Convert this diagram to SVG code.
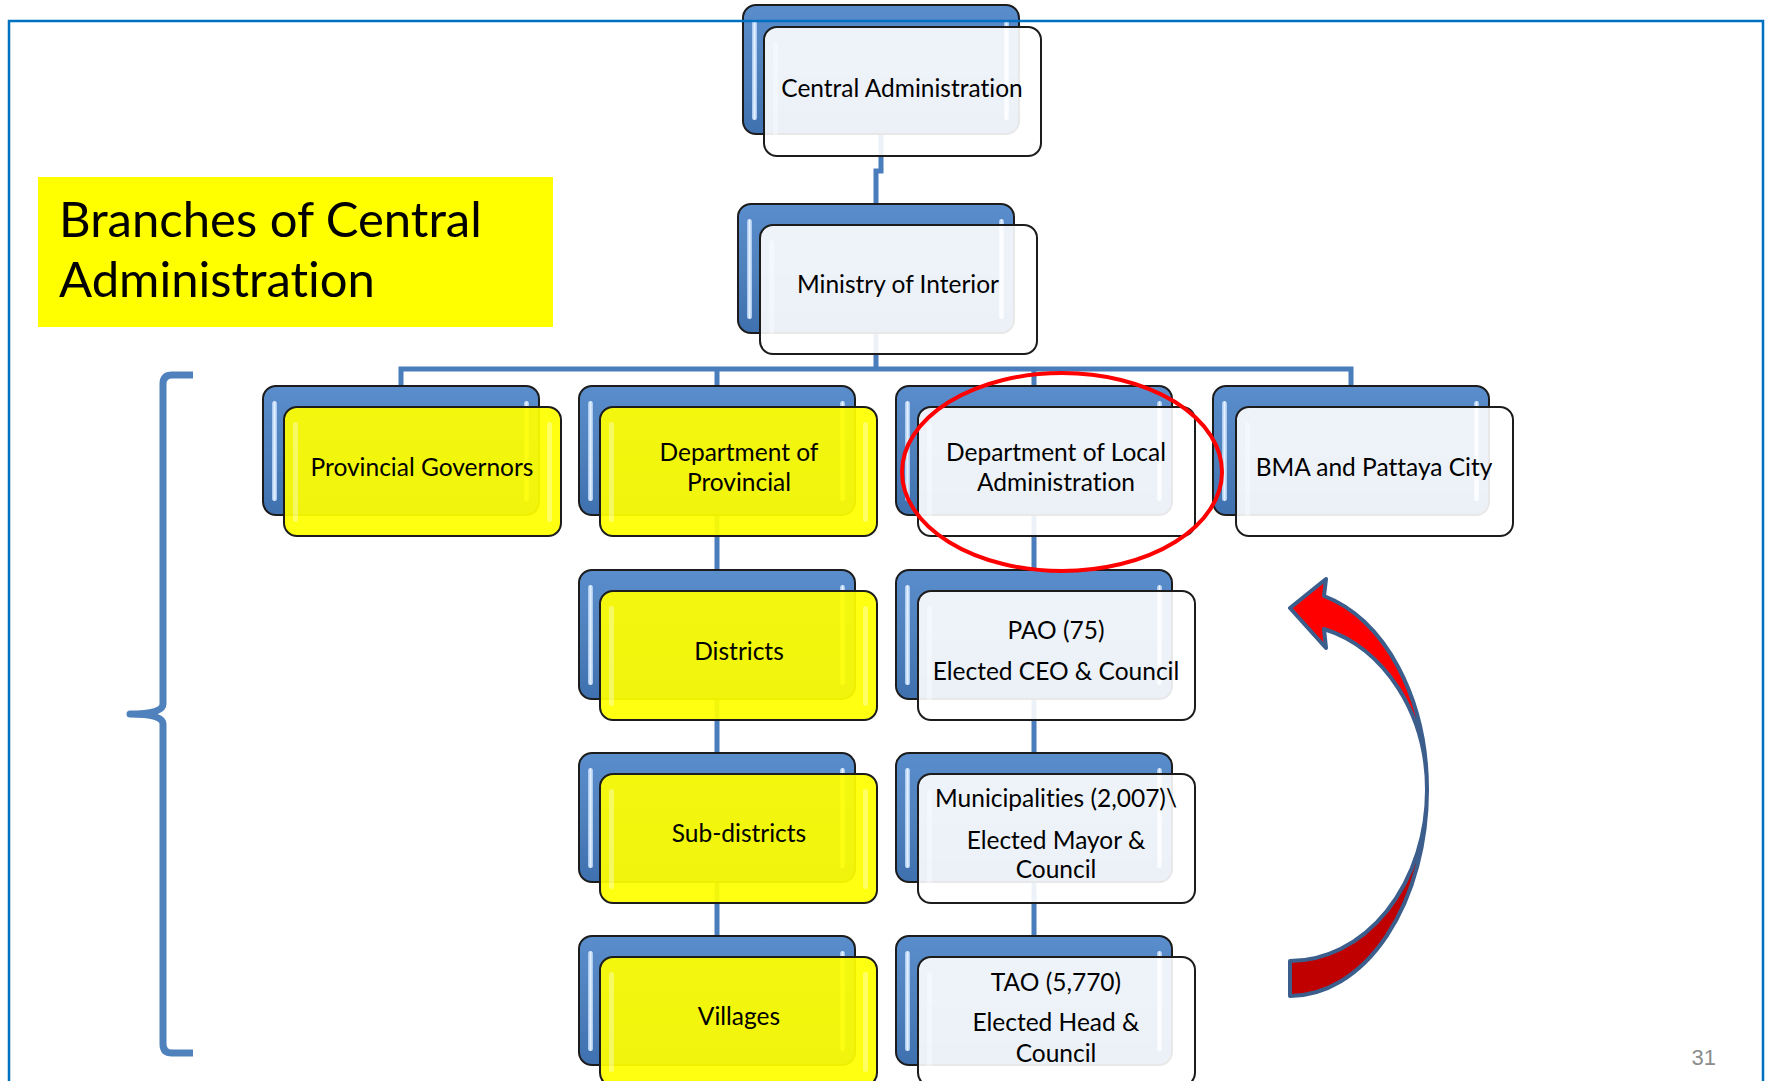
<svg xmlns="http://www.w3.org/2000/svg" width="1765" height="1081" viewBox="0 0 1765 1081">
<defs>
<linearGradient id="gBack" x1="0" y1="0" x2="0" y2="1">
<stop offset="0" stop-color="#5A8DCC"/>
<stop offset="0.5" stop-color="#4F81BD"/>
<stop offset="1" stop-color="#3F70AF"/>
</linearGradient>
<linearGradient id="gHl" x1="0" y1="0" x2="1" y2="0">
<stop offset="0" stop-color="#9FC3EE"/>
<stop offset="0.5" stop-color="#E4F0FD"/>
<stop offset="1" stop-color="#9FC3EE"/>
</linearGradient>
<style>
.back{fill:url(#gBack);stroke:#1C1C1C;stroke-width:2}
.hl{fill:url(#gHl)}
.fw{fill:#FFFFFF;fill-opacity:0.9;stroke:#1C1C1C;stroke-width:2}
.fy{fill:#FFFF00;fill-opacity:0.93;stroke:#1C1C1C;stroke-width:2}
.fhl{fill:#FFFFFF;fill-opacity:0.35}
text{font-variant-ligatures:none;font-feature-settings:"liga" 0}
.t{font-family:Lato,"Liberation Sans",sans-serif;font-size:24.5px;fill:#000;text-anchor:middle}
.conn{fill:none;stroke:#4A7DBB;stroke-width:5}
</style>
</defs>
<rect width="1765" height="1081" fill="#FFFFFF"/>

<g id="title">
<rect x="38" y="177" width="515" height="150" fill="#FFFF00"/>
<text x="59" y="237" style="font-family:Lato,'Liberation Sans',sans-serif;font-size:49px;fill:#000">Branches of Central</text>
<text x="59" y="297" style="font-family:Lato,'Liberation Sans',sans-serif;font-size:49px;fill:#000">Administration</text>
</g>

<g id="bracket">
<path d="M193,375 H172 Q163,375 163,384 V704 Q163,714 130,714 Q163,714 163,724 V1044 Q163,1053 172,1053 H193" fill="none" stroke="#4F81BD" stroke-width="7" stroke-linejoin="round"/>
</g>

<g id="connectors">
<path class="conn" d="M881,133 V171 H876 V204"/>
<path class="conn" d="M876,332 V369"/>
<path class="conn" d="M401,386 V369 H1351 V386 M717,369 V386 M1034,369 V386"/>
<path class="conn" d="M717,515 V570 M717,699 V753 M717,882 V936"/>
<path class="conn" d="M1034,515 V570 M1034,699 V753 M1034,882 V936"/>
</g>

<g id="n-central">
<rect class="back" x="743" y="5" width="276" height="129" rx="13"/>
<rect class="hl" x="752" y="20" width="5" height="100" rx="2.5"/>
<rect class="hl" x="1004" y="20" width="5" height="100" rx="2.5"/>
<rect class="fw" x="764" y="27" width="277" height="129" rx="13"/>
<rect class="fhl" x="773" y="42" width="5" height="100" rx="2.5"/>
<rect class="fhl" x="1027" y="42" width="5" height="100" rx="2.5"/>
<text class="t" x="902" y="97">Central Administration</text>
</g>

<g id="n-ministry">
<rect class="back" x="738" y="204" width="276" height="129" rx="13"/>
<rect class="hl" x="747" y="219" width="5" height="100" rx="2.5"/>
<rect class="hl" x="999" y="219" width="5" height="100" rx="2.5"/>
<rect class="fw" x="760" y="225" width="277" height="129" rx="13"/>
<rect class="fhl" x="769" y="240" width="5" height="100" rx="2.5"/>
<rect class="fhl" x="1023" y="240" width="5" height="100" rx="2.5"/>
<text class="t" x="898" y="293">Ministry of Interior</text>
</g>

<g id="n-provgov">
<rect class="back" x="263" y="386" width="276" height="129" rx="13"/>
<rect class="hl" x="272" y="401" width="5" height="100" rx="2.5"/>
<rect class="hl" x="524" y="401" width="5" height="100" rx="2.5"/>
<rect class="fy" x="284" y="407" width="277" height="129" rx="13"/>
<rect class="fhl" x="293" y="422" width="5" height="100" rx="2.5"/>
<rect class="fhl" x="547" y="422" width="5" height="100" rx="2.5"/>
<text class="t" x="422" y="476">Provincial Governors</text>
</g>

<g id="n-deptprov">
<rect class="back" x="579" y="386" width="276" height="129" rx="13"/>
<rect class="hl" x="588" y="401" width="5" height="100" rx="2.5"/>
<rect class="hl" x="840" y="401" width="5" height="100" rx="2.5"/>
<rect class="fy" x="600" y="407" width="277" height="129" rx="13"/>
<rect class="fhl" x="609" y="422" width="5" height="100" rx="2.5"/>
<rect class="fhl" x="863" y="422" width="5" height="100" rx="2.5"/>
<text class="t" x="739" y="461">Department of</text>
<text class="t" x="739" y="491">Provincial</text>
</g>

<g id="n-deptlocal">
<rect class="back" x="896" y="386" width="276" height="129" rx="13"/>
<rect class="hl" x="905" y="401" width="5" height="100" rx="2.5"/>
<rect class="hl" x="1157" y="401" width="5" height="100" rx="2.5"/>
<rect class="fw" x="918" y="407" width="277" height="129" rx="13"/>
<rect class="fhl" x="927" y="422" width="5" height="100" rx="2.5"/>
<rect class="fhl" x="1181" y="422" width="5" height="100" rx="2.5"/>
<text class="t" x="1056" y="461">Department of Local</text>
<text class="t" x="1056" y="491">Administration</text>
</g>

<g id="n-bma">
<rect class="back" x="1213" y="386" width="276" height="129" rx="13"/>
<rect class="hl" x="1222" y="401" width="5" height="100" rx="2.5"/>
<rect class="hl" x="1474" y="401" width="5" height="100" rx="2.5"/>
<rect class="fw" x="1236" y="407" width="277" height="129" rx="13"/>
<rect class="fhl" x="1245" y="422" width="5" height="100" rx="2.5"/>
<rect class="fhl" x="1499" y="422" width="5" height="100" rx="2.5"/>
<text class="t" x="1374" y="476">BMA and Pattaya City</text>
</g>

<g id="n-districts">
<rect class="back" x="579" y="570" width="276" height="129" rx="13"/>
<rect class="hl" x="588" y="585" width="5" height="100" rx="2.5"/>
<rect class="hl" x="840" y="585" width="5" height="100" rx="2.5"/>
<rect class="fy" x="600" y="591" width="277" height="129" rx="13"/>
<rect class="fhl" x="609" y="606" width="5" height="100" rx="2.5"/>
<rect class="fhl" x="863" y="606" width="5" height="100" rx="2.5"/>
<text class="t" x="739" y="660">Districts</text>
</g>

<g id="n-pao">
<rect class="back" x="896" y="570" width="276" height="129" rx="13"/>
<rect class="hl" x="905" y="585" width="5" height="100" rx="2.5"/>
<rect class="hl" x="1157" y="585" width="5" height="100" rx="2.5"/>
<rect class="fw" x="918" y="591" width="277" height="129" rx="13"/>
<rect class="fhl" x="927" y="606" width="5" height="100" rx="2.5"/>
<rect class="fhl" x="1181" y="606" width="5" height="100" rx="2.5"/>
<text class="t" x="1056" y="639">PAO (75)</text>
<text class="t" x="1056" y="680">Elected CEO &amp; Council</text>
</g>

<g id="n-subdistricts">
<rect class="back" x="579" y="753" width="276" height="129" rx="13"/>
<rect class="hl" x="588" y="768" width="5" height="100" rx="2.5"/>
<rect class="hl" x="840" y="768" width="5" height="100" rx="2.5"/>
<rect class="fy" x="600" y="774" width="277" height="129" rx="13"/>
<rect class="fhl" x="609" y="789" width="5" height="100" rx="2.5"/>
<rect class="fhl" x="863" y="789" width="5" height="100" rx="2.5"/>
<text class="t" x="739" y="842">Sub-districts</text>
</g>

<g id="n-municipalities">
<rect class="back" x="896" y="753" width="276" height="129" rx="13"/>
<rect class="hl" x="905" y="768" width="5" height="100" rx="2.5"/>
<rect class="hl" x="1157" y="768" width="5" height="100" rx="2.5"/>
<rect class="fw" x="918" y="774" width="277" height="129" rx="13"/>
<rect class="fhl" x="927" y="789" width="5" height="100" rx="2.5"/>
<rect class="fhl" x="1181" y="789" width="5" height="100" rx="2.5"/>
<text class="t" x="1056" y="807">Municipalities (2,007)\</text>
<text class="t" x="1056" y="849">Elected Mayor &amp;</text>
<text class="t" x="1056" y="878">Council</text>
</g>

<g id="n-villages">
<rect class="back" x="579" y="936" width="276" height="129" rx="13"/>
<rect class="hl" x="588" y="951" width="5" height="100" rx="2.5"/>
<rect class="hl" x="840" y="951" width="5" height="100" rx="2.5"/>
<rect class="fy" x="600" y="957" width="277" height="129" rx="13"/>
<rect class="fhl" x="609" y="972" width="5" height="100" rx="2.5"/>
<rect class="fhl" x="863" y="972" width="5" height="100" rx="2.5"/>
<text class="t" x="739" y="1025">Villages</text>
</g>

<g id="n-tao">
<rect class="back" x="896" y="936" width="276" height="129" rx="13"/>
<rect class="hl" x="905" y="951" width="5" height="100" rx="2.5"/>
<rect class="hl" x="1157" y="951" width="5" height="100" rx="2.5"/>
<rect class="fw" x="918" y="957" width="277" height="129" rx="13"/>
<rect class="fhl" x="927" y="972" width="5" height="100" rx="2.5"/>
<rect class="fhl" x="1181" y="972" width="5" height="100" rx="2.5"/>
<text class="t" x="1056" y="991">TAO (5,770)</text>
<text class="t" x="1056" y="1031">Elected Head &amp;</text>
<text class="t" x="1056" y="1062">Council</text>
</g>

<g id="highlight-ellipse">
<ellipse cx="1062" cy="472" rx="160" ry="99" fill="none" stroke="#FF0000" stroke-width="4"/>
</g>

<g id="curved-arrow" stroke="#3B5E8C" stroke-width="4" stroke-linejoin="round">
<path d="M1427,790 A137,206 0 0 1 1290,996 L1290,961 A137,171 0 0 0 1427,790 Z" fill="#C00000"/>
<path d="M1324,596 L1326,579 L1290,608 L1326,648 L1324,629 A137,166 0 0 1 1427,790 A137,200 0 0 0 1324,596 Z" fill="#FF0000"/>
</g>

<g id="frame">
<path d="M9,1081 V21 H1763 V1081" fill="none" stroke="#0070C0" stroke-width="2.5"/>
</g>

<text x="1716" y="1065" style="font-family:'Liberation Sans',Arial,sans-serif;font-size:22px;fill:#8C8C8C;text-anchor:end">31</text>
</svg>
